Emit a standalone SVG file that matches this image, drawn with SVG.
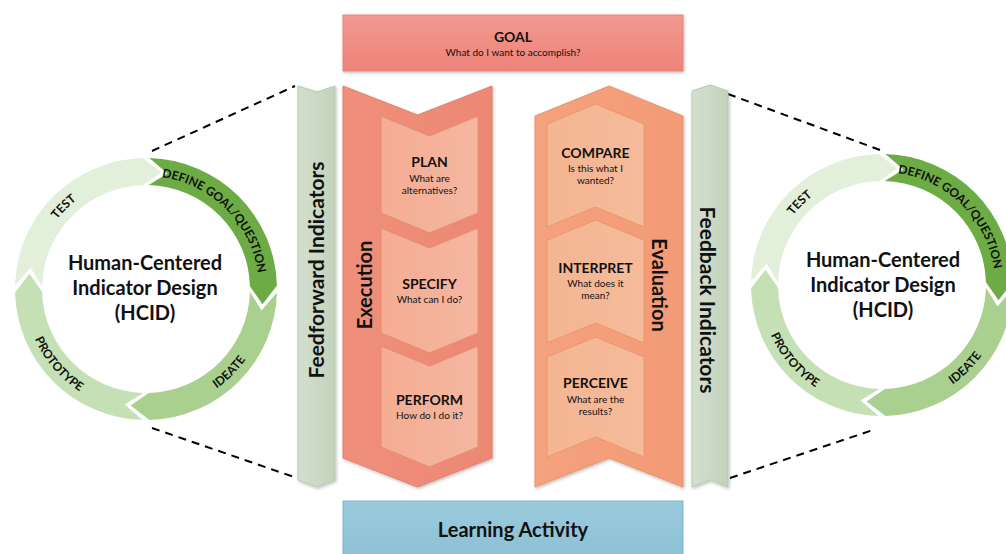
<svg xmlns="http://www.w3.org/2000/svg" xmlns:xlink="http://www.w3.org/1999/xlink" width="1006" height="554" viewBox="0 0 1006 554">
<style>
.lbl{font-family:Lato,"Liberation Sans",sans-serif;fill:#111}
.b{font-weight:bold}
.seg{stroke:none}
.define{fill:#6dab45}
.ideate{fill:#a9d08e}
.proto{fill:#c6e0b5}
.test{fill:#e2efda}
.arc{font-family:Lato,"Liberation Sans",sans-serif;font-weight:bold;font-size:12px;fill:#111}
.hcid{font-family:Lato,"Liberation Sans",sans-serif;font-weight:bold;font-size:20px;fill:#111;text-anchor:middle}
.inE{fill:url(#gInE);stroke:#e58d73;stroke-width:1}
.inV{fill:url(#gInV);stroke:#e9976c;stroke-width:1}
.bar{fill:url(#gBar);stroke:#b8c8b2;stroke-width:1}
.t14{font-size:14px;font-weight:bold;text-anchor:middle}
.t10{font-size:10px;text-anchor:middle}
.dash{stroke:#000;stroke-width:2;stroke-dasharray:8 6;fill:none}
</style>
<defs>
<linearGradient id="gBar" x1="0" y1="0" x2="1" y2="0"><stop offset="0" stop-color="#d4e0cf"/><stop offset="1" stop-color="#c3d2bc"/></linearGradient>
<linearGradient id="gExe" x1="0" y1="0" x2="1" y2="0"><stop offset="0" stop-color="#ef8f7a"/><stop offset="1" stop-color="#ec8873"/></linearGradient>
<linearGradient id="gEva" x1="0" y1="0" x2="1" y2="0"><stop offset="0" stop-color="#f5a27e"/><stop offset="1" stop-color="#f39a76"/></linearGradient>
<linearGradient id="gInE" x1="0" y1="0" x2="1" y2="0"><stop offset="0" stop-color="#f4ad93"/><stop offset="1" stop-color="#f5b6a0"/></linearGradient>
<linearGradient id="gInV" x1="0" y1="0" x2="1" y2="0"><stop offset="0" stop-color="#f4b592"/><stop offset="1" stop-color="#f5bb9a"/></linearGradient>
<linearGradient id="gGoal" x1="0" y1="0" x2="0" y2="1"><stop offset="0" stop-color="#f19990"/><stop offset="1" stop-color="#ee8379"/></linearGradient>
<linearGradient id="gLearn" x1="0" y1="0" x2="0" y2="1"><stop offset="0" stop-color="#9bcadd"/><stop offset="1" stop-color="#8cc0d5"/></linearGradient>
<filter id="sh" x="-10%" y="-10%" width="120%" height="120%"><feDropShadow dx="1" dy="1.5" stdDeviation="1.5" flood-color="#000" flood-opacity="0.25"/></filter>
<path id="pDefine" d="M148.96,176.04 A113,113 0 0 1 258.96,286.04"/>
<path id="pTest" d="M33.04,286.04 A113,113 0 0 1 143.04,176.04"/>
<path id="pIdeate" d="M149.19,410.96 A122,122 0 0 0 267.96,292.19"/>
<path id="pProto" d="M24.04,292.19 A122,122 0 0 0 142.81,410.96"/>
</defs>
<rect width="1006" height="554" fill="#fff"/>

<g id="connectors">
<line class="dash" x1="152" y1="151" x2="295" y2="86"/>
<line class="dash" x1="152" y1="428" x2="297" y2="478"/>
<line class="dash" x1="728" y1="94" x2="880" y2="150"/>
<line class="dash" x1="730" y1="478" x2="876" y2="429"/>
</g>

<g id="hcid-left">
<path class="seg define" d="M149.43,158.04 A131,131 0 0 1 276.96,285.57 L262.49,304.34 L249.96,286.28 A104,104 0 0 0 148.72,185.04 L167.41,173.47 Z"/>
<path class="seg ideate" d="M276.96,292.43 A131,131 0 0 1 149.43,419.96 L130.66,405.49 L148.72,392.96 A104,104 0 0 0 249.96,291.72 L261.53,310.41 Z"/>
<path class="seg proto" d="M142.57,419.96 A131,131 0 0 1 15.04,292.43 L29.51,273.66 L42.04,291.72 A104,104 0 0 0 143.28,392.96 L124.59,404.53 Z"/>
<path class="seg test" d="M15.04,285.57 A131,131 0 0 1 142.57,158.04 L161.34,172.51 L143.28,185.04 A104,104 0 0 0 42.04,286.28 L30.47,267.59 Z"/>
<text class="arc"><textPath href="#pDefine" startOffset="50%" text-anchor="middle">DEFINE GOAL/QUESTION</textPath></text>
<text class="arc"><textPath href="#pTest" startOffset="50%" text-anchor="middle">TEST</textPath></text>
<text class="arc"><textPath href="#pIdeate" startOffset="50%" text-anchor="middle">IDEATE</textPath></text>
<text class="arc"><textPath href="#pProto" startOffset="45%" text-anchor="middle">PROTOTYPE</textPath></text>
<text class="hcid" x="145" y="270">Human-Centered</text>
<text class="hcid" x="145" y="295">Indicator Design</text>
<text class="hcid" x="145" y="320">(HCID)</text>
</g>

<g id="hcid-right" transform="translate(736,-4)">
<path class="seg define" d="M149.43,158.04 A131,131 0 0 1 276.96,285.57 L262.49,304.34 L249.96,286.28 A104,104 0 0 0 148.72,185.04 L167.41,173.47 Z"/>
<path class="seg ideate" d="M276.96,292.43 A131,131 0 0 1 149.43,419.96 L130.66,405.49 L148.72,392.96 A104,104 0 0 0 249.96,291.72 L261.53,310.41 Z"/>
<path class="seg proto" d="M142.57,419.96 A131,131 0 0 1 15.04,292.43 L29.51,273.66 L42.04,291.72 A104,104 0 0 0 143.28,392.96 L124.59,404.53 Z"/>
<path class="seg test" d="M15.04,285.57 A131,131 0 0 1 142.57,158.04 L161.34,172.51 L143.28,185.04 A104,104 0 0 0 42.04,286.28 L30.47,267.59 Z"/>
<text class="arc"><textPath href="#pDefine" startOffset="50%" text-anchor="middle">DEFINE GOAL/QUESTION</textPath></text>
<text class="arc"><textPath href="#pTest" startOffset="50%" text-anchor="middle">TEST</textPath></text>
<text class="arc"><textPath href="#pIdeate" startOffset="50%" text-anchor="middle">IDEATE</textPath></text>
<text class="arc"><textPath href="#pProto" startOffset="45%" text-anchor="middle">PROTOTYPE</textPath></text>
<text class="hcid" x="147" y="271">Human-Centered</text>
<text class="hcid" x="147" y="296">Indicator Design</text>
<text class="hcid" x="147" y="321">(HCID)</text>
</g>

<g id="goal">
<rect x="343" y="15" width="340" height="56" fill="url(#gGoal)" stroke="#e4857b" stroke-width="1" filter="url(#sh)"/>
<text class="lbl t14" x="513" y="42">GOAL</text>
<text class="lbl t10" x="513" y="56">What do I want to accomplish?</text>
</g>

<g id="feedforward">
<polygon class="bar" points="298,86 317,92 335,86 335,480 317,487 298,480" filter="url(#sh)"/>
<text class="lbl b" font-size="21" text-anchor="middle" transform="translate(324,270) rotate(-90)">Feedforward Indicators</text>
</g>

<g id="execution">
<polygon points="343,86 417.5,115 492,86 492,458 417.5,487 343,458" fill="url(#gExe)" stroke="#e27f6b" stroke-width="1" filter="url(#sh)"/>
<text class="lbl b" font-size="20" text-anchor="middle" transform="translate(372,285) rotate(-90)">Execution</text>
</g>
<g id="plan">
<polygon class="inE" points="381,116 429.5,136 478,116 478,213 429.5,233 381,213"/>
<text class="lbl t14" x="429.5" y="167">PLAN</text>
<text class="lbl t10" x="429.5" y="182">What are</text>
<text class="lbl t10" x="429.5" y="194">alternatives?</text>
</g>
<g id="specify">
<polygon class="inE" points="381,228 429.5,248 478,228 478,333 429.5,353 381,333"/>
<text class="lbl t14" x="429.5" y="289">SPECIFY</text>
<text class="lbl t10" x="429.5" y="303">What can I do?</text>
</g>
<g id="perform">
<polygon class="inE" points="381,346 429.5,366 478,346 478,447 429.5,467 381,447"/>
<text class="lbl t14" x="429.5" y="405">PERFORM</text>
<text class="lbl t10" x="429.5" y="419">How do I do it?</text>
</g>

<g id="evaluation">
<polygon points="535,116 609,86 683,116 683,487 609,458 535,487" fill="url(#gEva)" stroke="#e8926b" stroke-width="1" filter="url(#sh)"/>
<text class="lbl b" font-size="20" text-anchor="middle" transform="translate(652,285) rotate(90)">Evaluation</text>
</g>
<g id="compare">
<polygon class="inV" points="547,124 595.5,104 644,124 644,227 595.5,207 547,227"/>
<text class="lbl t14" x="595.5" y="158">COMPARE</text>
<text class="lbl t10" x="595.5" y="172">Is this what I</text>
<text class="lbl t10" x="595.5" y="184">wanted?</text>
</g>
<g id="interpret">
<polygon class="inV" points="547,240 595.5,220 644,240 644,343 595.5,323 547,343"/>
<text class="lbl t14" x="595.5" y="273">INTERPRET</text>
<text class="lbl t10" x="595.5" y="287">What does it</text>
<text class="lbl t10" x="595.5" y="299">mean?</text>
</g>
<g id="perceive">
<polygon class="inV" points="547,357 595.5,337 644,357 644,457 595.5,437 547,457"/>
<text class="lbl t14" x="595.5" y="388">PERCEIVE</text>
<text class="lbl t10" x="595.5" y="403">What are the</text>
<text class="lbl t10" x="595.5" y="415">results?</text>
</g>

<g id="feedback">
<polygon class="bar" points="692,91 710,85 728,91 728,487 710,480 692,487" filter="url(#sh)"/>
<text class="lbl b" font-size="21" text-anchor="middle" transform="translate(700,300) rotate(90)">Feedback Indicators</text>
</g>

<g id="learning">
<rect x="343" y="501" width="340" height="60" fill="url(#gLearn)" stroke="#7db3c8" stroke-width="1"/>
<text class="lbl b" font-size="20" text-anchor="middle" x="513" y="537">Learning Activity</text>
</g>
</svg>
